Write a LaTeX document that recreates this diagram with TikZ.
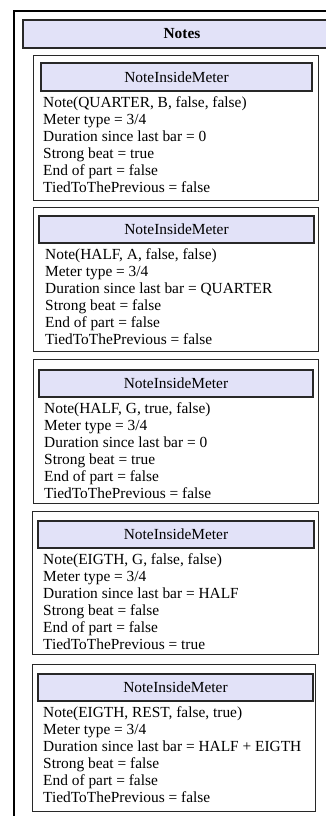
\documentclass[tikz,border=0pt]{standalone}
\usepackage{fontspec}
\setmainfont{Liberation Serif}
\definecolor{hdr}{RGB}{226,226,248}
\definecolor{edge}{RGB}{40,40,40}
\tikzset{
  outerbox/.style={draw=black, line width=2pt, anchor=north west, inner sep=0pt},
  titlebar/.style={draw=edge, fill=hdr, line width=1.8pt, anchor=north west, inner sep=0pt},
  notebox/.style={draw=edge, line width=1.3pt, anchor=north west, inner sep=0pt},
  hdrbox/.style={draw=edge, fill=hdr, line width=2pt, anchor=north west, inner sep=0pt},
  hdrtext/.style={font=\fontsize{15.4}{17}\selectfont, inner sep=0pt},
  linetext/.style={font=\fontsize{15.4}{17}\selectfont, anchor=base west, inner sep=0pt},
  titletext/.style={font=\fontsize{15.4}{17}\selectfont\bfseries, inner sep=0pt}
}
\newcommand{\mknote}[9]{%
  % #1 name, #2 left, #3 top, #4 width, #5 height, #6 hleft, #7 htop, #8 hwidth, #9 textx
  \node[notebox, minimum width=#4pt, minimum height=#5pt] (#1) at (#2,#3) {};
  \node[hdrbox, minimum width=#8pt, minimum height=27.5pt] (#1h) at (#6,#7) {};
  \node[hdrtext] (#1ht) at (#1h.center) {NoteInsideMeter};
  \coordinate (#1t) at (#9,#7+27.5+17.5);
}
\begin{document}
\begin{tikzpicture}[x=1pt,y=-1pt]
\useasboundingbox (0,0) rectangle (325,816);
\node[outerbox, minimum width=340pt, minimum height=830pt] (outer) at (13,10) {};
\node[titlebar, minimum width=330pt, minimum height=28pt] (title) at (22,19) {};
\node[titletext] (titlet) at (182,33.5) {Notes};

\mknote{a}{33}{55}{285}{145}{40}{62}{271}{43}
\mknote{b}{33}{207}{285}{144}{38}{214.5}{275}{45}
\mknote{c}{33}{359}{285}{144}{38}{368.5}{274}{44}
\mknote{d}{32}{511}{286}{143}{37}{519.5}{276}{43}
\mknote{e}{32}{664}{283}{147}{37}{672.5}{275}{43}

\foreach \n/\l [count=\i from 0] in {a/{Note(QUARTER, B, false, false)}, a/{Meter type = 3/4}, a/{Duration since last bar = 0}, a/{Strong beat = true}, a/{End of part = false}, a/{TiedToThePrevious = false}}
  \node[linetext] (\n l\i) at ([yshift=-17*\i pt]\n t) {\l};
\foreach \n/\l [count=\i from 0] in {b/{Note(HALF, A, false, false)}, b/{Meter type = 3/4}, b/{Duration since last bar = QUARTER}, b/{Strong beat = false}, b/{End of part = false}, b/{TiedToThePrevious = false}}
  \node[linetext] (\n l\i) at ([yshift=-17*\i pt]\n t) {\l};
\foreach \n/\l [count=\i from 0] in {c/{Note(HALF, G, true, false)}, c/{Meter type = 3/4}, c/{Duration since last bar = 0}, c/{Strong beat = true}, c/{End of part = false}, c/{TiedToThePrevious = false}}
  \node[linetext] (\n l\i) at ([yshift=-17*\i pt]\n t) {\l};
\foreach \n/\l [count=\i from 0] in {d/{Note(EIGTH, G, false, false)}, d/{Meter type = 3/4}, d/{Duration since last bar = HALF}, d/{Strong beat = false}, d/{End of part = false}, d/{TiedToThePrevious = true}}
  \node[linetext] (\n l\i) at ([yshift=-17*\i pt]\n t) {\l};
\foreach \n/\l [count=\i from 0] in {e/{Note(EIGTH, REST, false, true)}, e/{Meter type = 3/4}, e/{Duration since last bar = HALF + EIGTH}, e/{Strong beat = false}, e/{End of part = false}, e/{TiedToThePrevious = false}}
  \node[linetext] (\n l\i) at ([yshift=-17*\i pt]\n t) {\l};
\end{tikzpicture}
\end{document}
